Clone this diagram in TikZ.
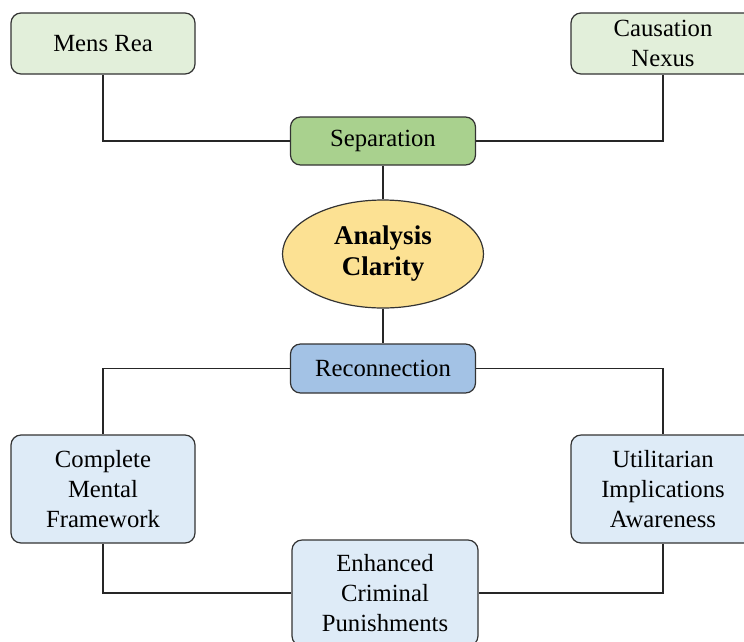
\documentclass[tikz,border=0pt]{standalone}
\usepackage{fontspec}
\setmainfont{Liberation Serif}
\usepackage{tikz}
\usetikzlibrary{shapes.geometric}
\definecolor{palegreen}{HTML}{E2EFDA}
\definecolor{midgreen}{HTML}{A9D18E}
\definecolor{paleblue}{HTML}{DEEBF7}
\definecolor{midblue}{HTML}{A3C2E5}
\definecolor{softyellow}{HTML}{FCE193}

\begin{document}
\begin{tikzpicture}[x=1pt,y=-1pt]
\useasboundingbox (0,0) rectangle (744,641);
\clip (0,0) rectangle (744,641);
\begin{scope}[every node/.style={rectangle,rounded corners=10pt,draw=black!80,line width=1.2pt,align=center,inner sep=0pt,font=\fontsize{24.7}{30}\selectfont}]
\node[fill=palegreen, minimum width=184pt, minimum height=61pt] (0) at (103,43.5) {Mens Rea};
\node[fill=palegreen, minimum width=184pt, minimum height=61pt] (1) at (663,43.5) {Causation\\Nexus};
\node[fill=midgreen, minimum width=185pt, minimum height=48pt] (2) at (383,141) {Separation};

\node[ellipse, fill=softyellow, minimum width=201pt, minimum height=108pt, font=\fontsize{27}{31}\selectfont\bfseries] (3) at (383,254) {Analysis\\Clarity};

\node[fill=midblue, minimum width=185pt, minimum height=49pt] (4) at (383,368.5) {Reconnection};
\node[fill=paleblue, minimum width=184pt, minimum height=108pt] (5) at (103,489) {Complete\\Mental\\Framework};
\node[fill=paleblue, minimum width=184pt, minimum height=108pt] (6) at (663,489) {Utilitarian\\Implications\\Awareness};
\node[fill=paleblue, minimum width=186pt, minimum height=106pt] (7) at (385,593) {Enhanced\\Criminal\\Punishments};
\end{scope}

\draw[line width=1.2pt, black!85] (0.south) |- (2.west);
\draw[line width=1.2pt, black!85] (1.south) |- (2.east);
\draw[line width=1.2pt, black!85] (2) -- (3);
\draw[line width=1.2pt, black!85] (3) -- (4);
\draw[line width=1.2pt, black!85] (4.west) -| (5.north);
\draw[line width=1.2pt, black!85] (4.east) -| (6.north);
\draw[line width=1.2pt, black!85] (5.south) |- (7.west);
\draw[line width=1.2pt, black!85] (6.south) |- (7.east);
\end{tikzpicture}
\end{document}
